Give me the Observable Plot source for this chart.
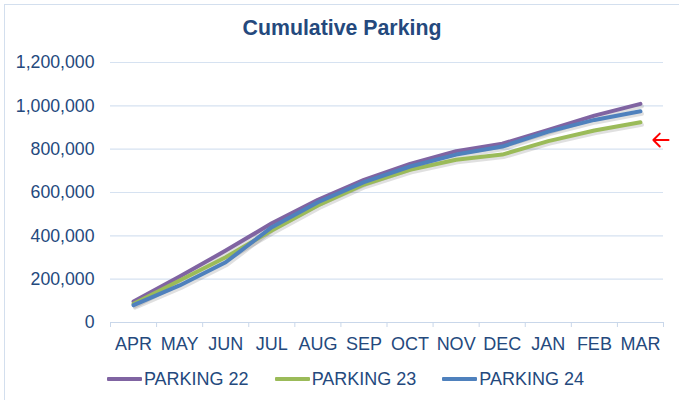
<!DOCTYPE html>
<html>
<head>
<meta charset="utf-8">
<script src="https://cdn.jsdelivr.net/npm/d3@7"></script>
<script src="https://cdn.jsdelivr.net/npm/@observablehq/plot@0.6"></script>
<style>
  html, body { margin: 0; padding: 0; background: #fff; overflow: hidden; }
  #wrap { position: relative; width: 679px; height: 400px; overflow: hidden; font-family: "Liberation Sans", Arial, sans-serif; }
  #frame { position: absolute; left: 4px; top: 4px; width: 720px; height: 440px; border: 1px solid #D3DFEE; }
  #title { position: absolute; left: 0; top: 18px; width: 684px; text-align: center; font-size: 21.3px; line-height: 21px; font-weight: bold; color: #24497D; }
  #chart { position: absolute; left: 0; top: 50px; }
  #legend { position: absolute; left: 0; top: 368px; width: 691px; height: 22px; display: flex; justify-content: center; align-items: center; font-size: 18px; color: #24497D; }
  .item { display: flex; align-items: center; margin: 0 13px; }
  .sw { width: 35px; height: 4px; margin-right: 2px; border-radius: 1px; }
</style>
</head>
<body>
<div id="wrap">
  <div id="frame"></div>
  <div id="title">Cumulative Parking</div>
  <div id="chart"></div>
  <div id="legend"></div>
</div>
<script>
const months = ["APR","MAY","JUN","JUL","AUG","SEP","OCT","NOV","DEC","JAN","FEB","MAR"];
const parking22 = [97000, 212000, 332000, 458000, 566000, 658000, 732000, 791000, 825000, 889000, 955000, 1009000];
const parking23 = [86000, 194000, 301000, 425000, 540000, 637000, 705000, 751000, 775000, 837000, 886000, 924000];
const parking24 = [80000, 171000, 278000, 440000, 555000, 648000, 720000, 775000, 812000, 881000, 935000, 975000];
const seriesNames = ["PARKING 22", "PARKING 23", "PARKING 24"];
const seriesColors = ["#8064A2", "#9BBB59", "#4F81BD"];
const yTicks = [0, 200000, 400000, 600000, 800000, 1000000, 1200000];
// red annotation arrow to the right of the MAR values (pointing left)
const arrowNote = [{from: 12.0, to: 11.28, value: 842000}];

const allSeries = [parking22, parking23, parking24];
const rows = [];
allSeries.forEach((vals, s) => vals.forEach((v, i) => rows.push({series: seriesNames[s], i, month: months[i], value: v})));
const idx = months.map((m, i) => i);
const bounds = months.map((m, i) => i - 0.5).concat([months.length - 0.5]);

const chart = Plot.plot({
  width: 679,
  height: 312,
  marginLeft: 110,
  marginRight: 16,
  marginTop: 12,
  marginBottom: 40,
  style: {fontFamily: "'Liberation Sans', Arial, sans-serif", fontSize: "18px", color: "#24497D", background: "transparent", overflow: "visible"},
  x: {type: "linear", domain: [-0.5, months.length - 0.5]},
  y: {domain: [0, 1200000]},
  color: {domain: seriesNames, range: seriesColors},
  marks: [
    Plot.gridY(yTicks, {stroke: "#D6E2F1", strokeOpacity: 1, strokeWidth: 1.2}),
    Plot.ruleY([0], {stroke: "#C9D7EA", strokeWidth: 1.2}),
    Plot.axisY(yTicks, {tickSize: 0, tickPadding: 16, tickFormat: d3.format(","), fill: "#24497D", fontSize: 17.7, label: null}),
    Plot.axisX(bounds, {tickSize: 5, tickFormat: () => "", stroke: "#C9D7EA", label: null}),
    Plot.axisX(idx, {tickSize: 0, tickPadding: 15, tickFormat: i => months[i], fill: "#24497D", label: null}),
    Plot.line(rows, {x: "i", y: "value", z: "series", stroke: "#000", strokeOpacity: 0.12, strokeWidth: 4, dx: 1.5, dy: 2.5}),
    Plot.line(rows, {x: "i", y: "value", z: "series", stroke: "series", strokeWidth: 4, strokeLinejoin: "round", strokeLinecap: "round"}),
    Plot.arrow(arrowNote, {x1: "from", x2: "to", y1: "value", y2: "value", insetStart: 18, stroke: "#FF0000", strokeWidth: 2, headLength: 6.8, headAngle: 90, clip: false})
  ]
});
document.getElementById("chart").appendChild(chart);

const legend = document.getElementById("legend");
seriesNames.forEach((n, s) => {
  const it = document.createElement("div");
  it.className = "item";
  const sw = document.createElement("div");
  sw.className = "sw";
  sw.style.background = seriesColors[s];
  const t = document.createElement("span");
  t.textContent = n;
  it.appendChild(sw); it.appendChild(t);
  legend.appendChild(it);
});
</script>
</body>
</html>
